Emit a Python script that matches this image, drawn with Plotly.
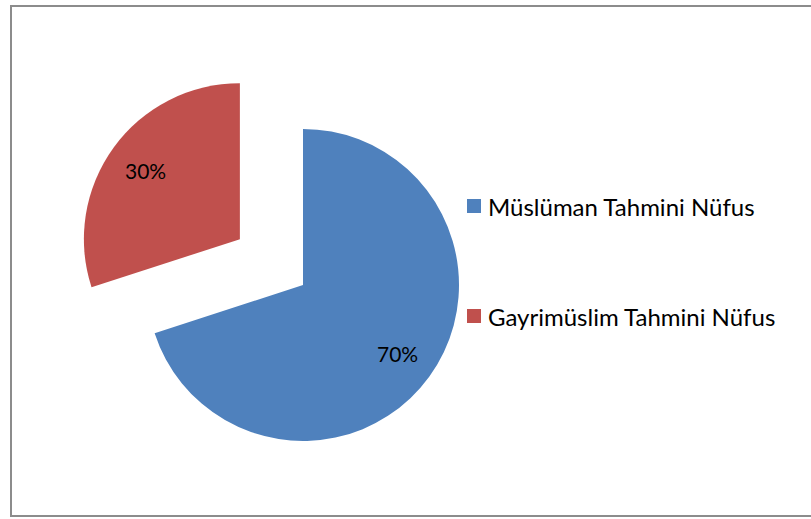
import math
import plotly.graph_objects as go

# data
labels = ["Müslüman Tahmini Nüfus", "Gayrimüslim Tahmini Nüfus"]
values = [70, 30]
pulls = [0, 0.5]
colors = ["#4F81BD", "#C0504D"]

W, H = 811, 519
FONT = "Lato, 'Open Sans', sans-serif"

# pie geometry in pixels (centre, radius) -> domain box
CX, CY, R = 303, 285, 156
box = 2 * R * (1 + max(pulls))
half_h = H - CY

fig = go.Figure()

fig.add_trace(go.Pie(
    labels=labels,
    values=values,
    pull=pulls,
    sort=False,
    direction="clockwise",
    rotation=0,
    marker=dict(colors=colors, line=dict(width=0)),
    textinfo="none",
    showlegend=False,
    hoverinfo="label+percent",
    domain=dict(x=[(CX - box / 2) / W, (CX + box / 2) / W],
                y=[0, (H - (CY - half_h)) / H]),
))

# percent labels, placed like Excel does: ~3/4 of the radius along each slice's bisector
annotations = []
total = sum(values)
start = 0.0
for v, p in zip(values, pulls):
    mid = (start + v / 2) / total * 2 * math.pi  # clockwise from 12 o'clock
    start += v
    dist = R * (p + 0.75)
    px = CX + dist * math.sin(mid)
    py = CY - dist * math.cos(mid)
    annotations.append(dict(text=f"{v / total:.0%}", xref="paper", yref="paper",
                            x=px / W, y=1 - py / H, xanchor="center", yanchor="middle",
                            showarrow=False,
                            font=dict(family=FONT, size=21, color="#000000")))

# legend drawn by hand so the two entries keep the wide spacing of the original
legend_y = [206, 316]
shapes = [
    # chart frame
    dict(type="rect", xref="paper", yref="paper",
         x0=11 / W, x1=1.02, y0=1 - 516 / H, y1=1 - 6 / H,
         line=dict(color="#8C8C8C", width=2), fillcolor="rgba(0,0,0,0)"),
]
for lab, col, yy in zip(labels, colors, legend_y):
    shapes.append(dict(type="rect", xref="paper", yref="paper",
                       x0=467 / W, x1=481 / W,
                       y0=1 - (yy + 7) / H, y1=1 - (yy - 7) / H,
                       line=dict(width=0), fillcolor=col))
    annotations.append(dict(text=lab, xref="paper", yref="paper",
                            x=486 / W, y=1 - yy / H, xanchor="left", yanchor="middle",
                            showarrow=False,
                            font=dict(family=FONT, size=24, color="#000000")))

fig.update_layout(
    width=W, height=H,
    margin=dict(l=0, r=0, t=0, b=0),
    paper_bgcolor="white",
    plot_bgcolor="white",
    shapes=shapes,
    annotations=annotations,
)

fig.write_html("out.html", config={"displayModeBar": False},
               post_script="document.body.style.margin='0';")
